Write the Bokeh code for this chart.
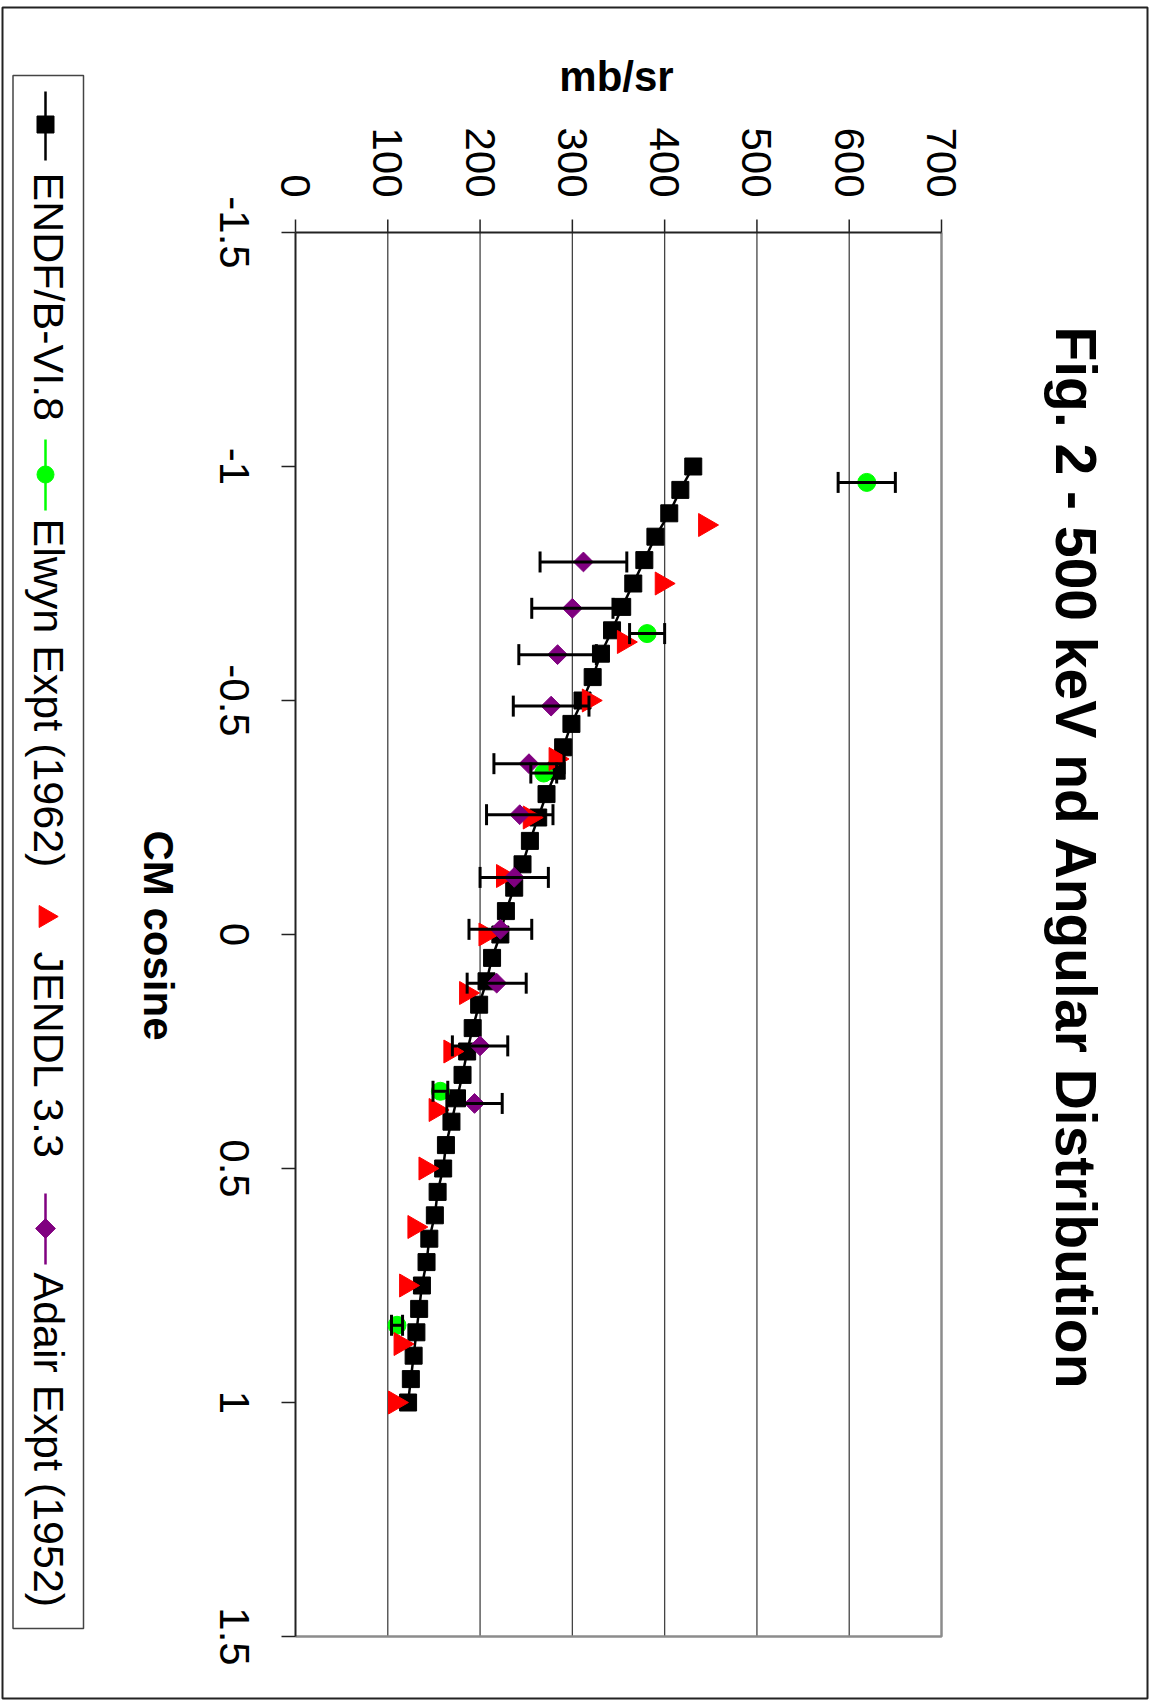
import math
from bokeh.plotting import figure
from bokeh.models import Range1d, ColumnDataSource, Whisker, TeeHead
from bokeh.core.properties import value
from bokeh.embed import file_html
from bokeh.resources import INLINE

# ---------------- data ----------------
endf_mu = [-1.00, -0.95, -0.90, -0.85, -0.80, -0.75, -0.70, -0.65, -0.60, -0.55,
           -0.50, -0.45, -0.40, -0.35, -0.30, -0.25, -0.20, -0.15, -0.10, -0.05,
           0.00, 0.05, 0.10, 0.15, 0.20, 0.25, 0.30, 0.35, 0.40, 0.45,
           0.50, 0.55, 0.60, 0.65, 0.70, 0.75, 0.80, 0.85, 0.90, 0.95, 1.00]
endf_val = [431, 417, 405, 390, 378, 366, 354, 343, 331, 322,
            311, 299, 290, 283, 272, 263, 254, 246, 237, 228,
            222, 213, 207, 199, 192, 186, 181, 175, 169, 163,
            160, 154, 151, 145, 142, 137, 134, 131, 128, 125, 122]

elwyn_mu = [-0.966, -0.643, -0.345, 0.335, 0.835]
elwyn_val = [619, 381, 269, 157, 110]
elwyn_err = [31, 19, 14, 8, 6]

jendl_mu = [-0.875, -0.75, -0.625, -0.5, -0.375, -0.25, -0.125, 0.0,
            0.125, 0.25, 0.375, 0.5, 0.625, 0.75, 0.875, 1.0]
jendl_val = [444, 397, 356, 318, 282, 254, 225, 206,
             185, 168, 152, 141, 129, 120, 114, 108]

adair_mu = [-0.796, -0.697, -0.598, -0.488, -0.365, -0.256, -0.122, -0.011, 0.104, 0.238, 0.361]
adair_val = [312, 300, 284, 277, 253, 243, 237, 222, 218, 200, 194]
adair_err = [47, 44, 42, 41, 38, 36, 37, 34, 32, 30, 30]

x_ticks = [0, 100, 200, 300, 400, 500, 600, 700]
y_ticks = [-1.5, -1.0, -0.5, 0.0, 0.5, 1.0, 1.5]
y_tick_labels = ["-1.5", "-1", "-0.5", "0", "0.5", "1", "1.5"]

series_names = ["ENDF/B-VI.8", "Elwyn Expt (1962)", "JENDL 3.3", "Adair Expt (1952)"]
series_colors = ["#000000", "#00FF00", "#FF0000", "#800080"]

title_text = "Fig. 2 - 500 keV nd Angular Distribution"
x_title = "mb/sr"
y_title = "CM cosine"

# ---------------- layout (pixels) ----------------
W, H = 1150, 1701
FX0, FX1 = 295, 941      # pixel of value 0 and 700
FY0, FY1 = 232, 1636     # pixel of cosine -1.5 and 1.5


def X(px):
    return x_ticks[0] + (px - FX0) * (x_ticks[-1] - x_ticks[0]) / (FX1 - FX0)


def Y(py):
    return y_ticks[0] + (py - FY0) * (y_ticks[-1] - y_ticks[0]) / (FY1 - FY0)


FONT = value("Liberation Sans")
ROT = -math.pi / 2

p = figure(width=W, height=H,
           x_range=Range1d(X(0), X(W)), y_range=Range1d(Y(H), Y(0)),
           output_backend="svg", toolbar_location=None, min_border=0,
           x_axis_location=None, y_axis_location=None, title=None,
           outline_line_color=None, background_fill_color="white",
           border_fill_color="white")
p.grid.visible = False

# outer chart border
p.quad(left=X(2), right=X(1147), top=Y(7), bottom=Y(1698),
       fill_color=None, line_color="#222222", line_width=2, level="underlay")

# gridlines
p.segment(x0=x_ticks[1:-1], y0=y_ticks[0], x1=x_ticks[1:-1], y1=y_ticks[-1],
          line_color="#444444", line_width=1.3, level="underlay")

# plot-area border (right / bottom)
p.line(x=[x_ticks[0], x_ticks[-1], x_ticks[-1]], y=[y_ticks[-1], y_ticks[-1], y_ticks[0]],
       line_color="#8c8c8c", line_width=2.5, level="underlay")

# axis lines (top = value axis, left = cosine axis)
p.line(x=[x_ticks[0], x_ticks[-1]], y=[y_ticks[0], y_ticks[0]],
       line_color="#222222", line_width=2, level="underlay")
p.line(x=[x_ticks[0], x_ticks[0]], y=[y_ticks[0], y_ticks[-1]],
       line_color="#222222", line_width=2, level="underlay")

# tick marks
p.segment(x0=x_ticks, y0=Y(219), x1=x_ticks, y1=y_ticks[0],
          line_color="#222222", line_width=1.5, level="underlay")
p.segment(x0=X(281), y0=y_ticks, x1=x_ticks[0], y1=y_ticks,
          line_color="#222222", line_width=1.5, level="underlay")

# tick labels
p.text(x=x_ticks, y=Y(197), text=[str(v) for v in x_ticks], angle=ROT,
       text_align="right", text_baseline="middle", text_font=FONT,
       text_font_size="42px", text_color="black")
p.text(x=X(234), y=y_ticks, text=y_tick_labels, angle=ROT,
       text_align="center", text_baseline="middle", text_font=FONT,
       text_font_size="42px", text_color="black")

# axis titles
p.text(x=[X(616)], y=[Y(76)], text=[x_title], text_align="center",
       text_baseline="middle", text_font=FONT, text_font_style="bold",
       text_font_size="42px", text_color="black")
p.text(x=[X(158)], y=[Y(935)], text=[y_title], angle=ROT, text_align="center",
       text_baseline="middle", text_font=FONT, text_font_style="bold",
       text_font_size="42px", text_color="black")

# chart title
p.text(x=[X(1075)], y=[Y(858)], text=[title_text], angle=ROT, text_align="center",
       text_baseline="middle", text_font=FONT, text_font_style="bold",
       text_font_size="57px", text_color="black")

# error bars
for mu, val, err in [(elwyn_mu, elwyn_val, elwyn_err), (adair_mu, adair_val, adair_err)]:
    src = ColumnDataSource(dict(mu=mu,
                                lo=[v - e for v, e in zip(val, err)],
                                hi=[v + e for v, e in zip(val, err)]))
    w = Whisker(source=src, base="mu", lower="lo", upper="hi", dimension="width",
                line_color="black", line_width=3, level="glyph",
                upper_head=TeeHead(size=21, line_color="black", line_width=3),
                lower_head=TeeHead(size=21, line_color="black", line_width=3))
    p.add_layout(w)

# series
p.line(x=endf_val, y=endf_mu, line_color=series_colors[0], line_width=2.5)
p.scatter(x=endf_val, y=endf_mu, marker="square", size=17,
          fill_color=series_colors[0], line_color=series_colors[0])
p.scatter(x=elwyn_val, y=elwyn_mu, marker="circle", size=18,
          fill_color=series_colors[1], line_color=series_colors[1])
p.scatter(x=jendl_val, y=jendl_mu, marker="triangle", angle=ROT, size=23,
          fill_color=series_colors[2], line_color=series_colors[2])
p.scatter(x=adair_val, y=adair_mu, marker="square", angle=math.pi / 4, size=14,
          fill_color=series_colors[3], line_color=series_colors[3])

# legend (drawn rotated, like the chart)
p.quad(left=X(12.5), right=X(83), top=Y(75), bottom=Y(1628),
       fill_color="white", line_color="#444444", line_width=1.5)
leg_x = X(45)
leg_line_px = [(91, 160), (439, 510), None, (1193, 1264)]
leg_mark_px = [124, 474, 916, 1228]
leg_text_px = [172, 518, 951, 1272]
leg_markers = [("square", 17, 0.0), ("circle", 17, 0.0), ("triangle", 22, ROT), ("square", 14, math.pi / 4)]
for i in range(4):
    if leg_line_px[i] is not None:
        a, b = leg_line_px[i]
        p.line(x=[leg_x, leg_x], y=[Y(a), Y(b)], line_color=series_colors[i], line_width=2.5)
    m, s, ang = leg_markers[i]
    p.scatter(x=[leg_x], y=[Y(leg_mark_px[i])], marker=m, size=s, angle=ang,
              fill_color=series_colors[i], line_color=series_colors[i])
    p.text(x=[X(48)], y=[Y(leg_text_px[i])], text=[series_names[i]], angle=ROT,
           text_align="left", text_baseline="middle", text_font=FONT,
           text_font_size="43px", text_color="black")

open("out.html", "w").write(file_html(p, INLINE))
